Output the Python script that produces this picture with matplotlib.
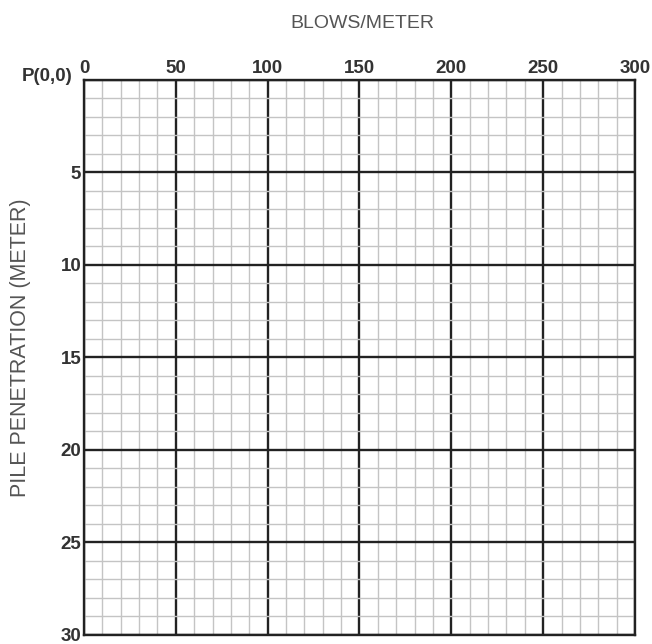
import numpy as np
import matplotlib.pyplot as plt
import matplotlib.transforms as mtransforms

# axis ranges / ticks
blows_ticks = [0, 50, 100, 150, 200, 250, 300]
blows_labels = ['0', '50', '100', '150', '200', '250', '300']
depth_ticks = [0, 5, 10, 15, 20, 25, 30]
depth_labels = ['P(0,0)', '5', '10', '15', '20', '25', '30']
blows_minor = np.arange(0, 301, 10)
depth_minor = np.arange(0, 31, 1)

plt.rcParams['font.family'] = ['Liberation Sans', 'DejaVu Sans']

fig = plt.figure(figsize=(6.52, 6.44), dpi=100)
ax = fig.add_axes([0.1288, 0.014, 0.8451, 0.8618])

ax.set_xlim(blows_ticks[0], blows_ticks[-1])
ax.set_ylim(depth_ticks[-1], depth_ticks[0])

ax.set_xticks(blows_ticks)
ax.set_xticklabels(blows_labels, fontsize=13.5, fontweight='bold', color='#333333')
ax.set_yticks(depth_ticks)
ax.set_yticklabels(depth_labels, fontsize=13.5, fontweight='bold', color='#333333')
ax.set_xticks(blows_minor, minor=True)
ax.set_yticks(depth_minor, minor=True)

ax.xaxis.tick_top()
ax.tick_params(which='both', length=0)
ax.tick_params(axis='x', pad=2)
ax.tick_params(axis='y', pad=2)

# P(0,0) sits a little left of and above the corner
lab0 = ax.get_yticklabels()[0]
lab0.set_transform(lab0.get_transform() +
                   mtransforms.ScaledTranslation(-0.09, 0.05, fig.dpi_scale_trans))

ax.grid(which='minor', color='#c4c4c4', lw=1.0)
ax.grid(which='major', color='#222222', lw=1.7)
ax.set_axisbelow(True)
for s in ax.spines.values():
    s.set_color('#222222')
    s.set_linewidth(1.7)

fig.text(0.556, 0.964, 'BLOWS/METER', ha='center', va='center', fontsize=14, color='#555555')
fig.text(0.031, 0.46, 'PILE PENETRATION (METER)', ha='center', va='center',
         rotation=90, fontsize=15.5, color='#555555')

fig.savefig('out.png', dpi=100)
